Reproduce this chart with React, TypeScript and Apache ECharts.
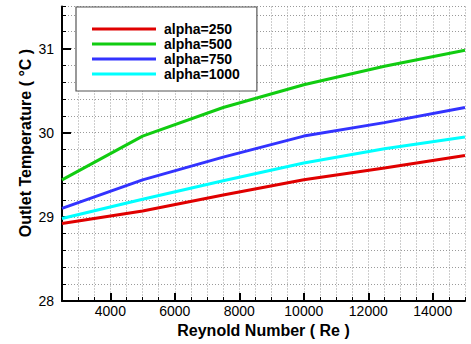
import React, { useEffect, useRef } from "react";
import * as echarts from "echarts";

const reynolds = [2500, 5000, 7500, 10000, 12500, 15000];
const alpha250 = [28.92, 29.07, 29.26, 29.44, 29.58, 29.73];
const alpha500 = [29.44, 29.96, 30.3, 30.57, 30.79, 30.98];
const alpha750 = [29.1, 29.44, 29.71, 29.96, 30.12, 30.3];
const alpha1000 = [28.98, 29.21, 29.43, 29.64, 29.81, 29.95];
const seriesNames = ["alpha=250", "alpha=500", "alpha=750", "alpha=1000"];
const seriesColors = ["#e00000", "#11cc11", "#3333ff", "#00ffff"];
const xLabelValues = [4000, 6000, 8000, 10000, 12000, 14000];
const yLabelValues = [28, 29, 30, 31];
const yMajorTicks = [29, 30, 31];

const FONT = "Liberation Sans, Arial, sans-serif";

export default function App() {
  const ref = useRef<HTMLDivElement>(null);
  useEffect(() => {
    if (!ref.current) return;
    const chart = echarts.init(ref.current, null, { renderer: "svg" });
    const all = [alpha250, alpha500, alpha750, alpha1000];
    const gridLine = { show: true, lineStyle: { color: "#9a9a9a", width: 1, type: [1, 2] as any } };
    chart.setOption({
      animation: false,
      backgroundColor: "#ffffff",
      textStyle: { fontFamily: FONT },
      grid: { left: 62, right: 6, top: 6.5, bottom: 43, containLabel: false },
      legend: {
        left: 76,
        top: 7,
        orient: "vertical",
        backgroundColor: "#ffffff",
        borderColor: "#555555",
        borderWidth: 1.2,
        borderRadius: 0,
        padding: [15, 17, 10, 16],
        itemWidth: 64,
        itemHeight: 3,
        itemGap: 1,
        icon: "rect",
        data: seriesNames,
        textStyle: { fontFamily: FONT, fontSize: 14, fontWeight: "bold", color: "#000", lineHeight: 13, padding: [0, 0, 0, 3] },
      },
      xAxis: [
        {
          type: "value",
          min: 2500,
          max: 15000,
          interval: 500,
          axisLine: { show: true, lineStyle: { color: "#000", width: 2 } },
          axisTick: { show: true, inside: true, length: 4, lineStyle: { color: "#000", width: 1 } },
          axisLabel: { customValues: xLabelValues, formatter: (v: number) => String(v), color: "#000", fontSize: 14, margin: 3, fontFamily: FONT },
          splitLine: gridLine,
          name: "Reynold Number ( Re )",
          nameLocation: "middle",
          nameGap: 20,
          nameTextStyle: { fontSize: 16, fontWeight: "bold", color: "#000", fontFamily: FONT, verticalAlign: "top" },
        },
        {
          type: "value",
          position: "bottom",
          min: 2500,
          max: 15000,
          axisLine: { show: false },
          axisTick: { show: true, inside: true, length: 8, customValues: xLabelValues, lineStyle: { color: "#000", width: 2 } },
          axisLabel: { show: false },
          splitLine: { show: false },
        },
      ],
      yAxis: [
        {
          type: "value",
          min: 28,
          max: 31.5,
          interval: 0.2,
          axisLine: { show: true, lineStyle: { color: "#000", width: 2 } },
          axisTick: { show: true, inside: true, length: 4, lineStyle: { color: "#000", width: 1 } },
          axisLabel: { customValues: yLabelValues, formatter: (v: number) => String(v), color: "#000", fontSize: 14, margin: 8, fontFamily: FONT },
          splitLine: gridLine,
        },
        {
          type: "value",
          position: "left",
          min: 28,
          max: 31.5,
          axisLine: { show: false },
          axisTick: { show: true, inside: true, length: 9, customValues: yMajorTicks, lineStyle: { color: "#000", width: 2 } },
          axisLabel: { show: false },
          splitLine: { show: false },
        },
      ],
      graphic: [
        {
          type: "text",
          x: 25,
          y: 143,
          rotation: Math.PI / 2,
          style: {
            text: "Outlet Temperature ( °C )",
            fontFamily: FONT,
            fontSize: 16,
            fontWeight: "bold",
            fill: "#000",
            textAlign: "center",
            textVerticalAlign: "middle",
          },
        },
      ],
      series: all.map((vals, i) => ({
        name: seriesNames[i],
        type: "line",
        xAxisIndex: 0,
        yAxisIndex: 0,
        showSymbol: false,
        symbol: "none",
        color: seriesColors[i],
        lineStyle: { color: seriesColors[i], width: 3 },
        data: reynolds.map((r, j) => [r, vals[j]]),
      })),
    });
    return () => chart.dispose();
  }, []);
  return <div ref={ref} style={{ position: "fixed", left: 0, top: 0, width: 471, height: 344 }} />;
}
